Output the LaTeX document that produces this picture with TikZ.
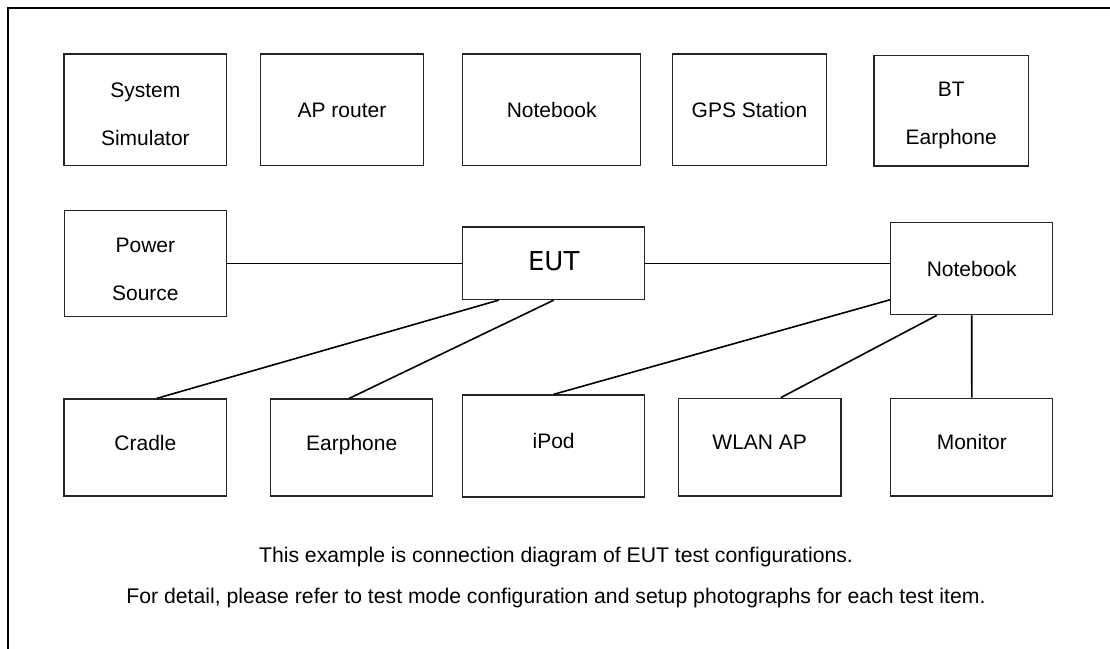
\documentclass[tikz,border=0pt]{standalone}
\usepackage{fontspec}
\setmainfont{Liberation Sans}
\newfontfamily\eutfont{DejaVu Sans}
\usetikzlibrary{calc}
\begin{document}
\begin{tikzpicture}[x=1pt,y=-1pt,
  dev/.style={draw=black!85, line width=1.3pt, inner sep=0pt, align=center,
    font=\fontsize{21}{47.7}\selectfont, text height=15pt, text depth=0pt},
  two/.style={text height=, text depth=},
  low/.style={text depth=10pt},
  link/.style={draw=black, line width=1.6pt},
  note/.style={inner sep=0pt, font=\fontsize{21.2}{25}\selectfont}]
\useasboundingbox (0,0) rectangle (1110,648);

% frame (only top and left edges are visible)
\draw[line width=2.7pt] (8,656) -- (8,8) -- (1118,8);

% top row
\node[dev, two, minimum width=162.7pt, minimum height=111.7pt] (sim) at (145.35,109.9)
  {\rule{0pt}{24pt}System\\Simulator};
\node[dev, minimum width=162.6pt, minimum height=111.7pt] (ap) at (342,109.9) {AP router};
\node[dev, minimum width=178pt, minimum height=111.7pt] (nbA) at (551.7,109.9) {Notebook};
\node[dev, minimum width=154.4pt, minimum height=111.7pt] (gps) at (749.5,109.9) {GPS Station};
\node[dev, two, minimum width=154.3pt, minimum height=110.3pt] (bt) at (951.2,110.9)
  {\rule{0pt}{24pt}BT\\Earphone};

% middle row
\node[dev, two, minimum width=162.4pt, minimum height=106pt] (power) at (145.35,263.3)
  {\rule{0pt}{26pt}Power\\Source};
\node[dev, minimum width=182pt, minimum height=72.4pt, font=\eutfont\fontsize{26}{30}\selectfont,
  text height=19pt, text depth=4.5pt] (eut) at (553.7,263.3) {EUT};
\node[dev, minimum width=162pt, minimum height=92pt] (nbB) at (971.7,268.7) {Notebook};

% bottom row
\node[dev, low, minimum width=162.7pt, minimum height=97pt] (cradle) at (145.35,447.5) {Cradle};
\node[dev, low, minimum width=162pt, minimum height=97pt] (earph) at (351.7,447.5) {Earphone};
\node[dev, low, minimum width=182pt, minimum height=102pt] (ipod) at (553.6,446) {iPod};
\node[dev, low, minimum width=162.4pt, minimum height=97.7pt] (wlan) at (759.7,447.15) {WLAN AP};
\node[dev, low, minimum width=162pt, minimum height=97.7pt] (mon) at (971.8,447.15) {Monitor};

% connections
\draw[link] (power.east) -- (eut.west);
\draw[link] (eut.east) -- (eut.east -| nbB.west);
\draw[link] ($(eut.south west)!0.2!(eut.south east)$) -- ($(cradle.north west)!0.57!(cradle.north east)$);
\draw[link] (eut.south) -- ($(earph.north west)!0.485!(earph.north east)$);
\draw[link] ($(nbB.north west)!0.833!(nbB.south west)$) -- (ipod.north);
\draw[link] ($(nbB.south west)!0.286!(nbB.south east)$) -- ($(wlan.north west)!0.629!(wlan.north east)$);
\draw[link] (nbB.south) -- (mon.north);

% notes
\node[note] (noteA) at (556,557) {This example is connection diagram of EUT test configurations.};
\node[note] (noteB) at (556,598) {For detail, please refer to test mode configuration and setup photographs for each test item.};
\end{tikzpicture}
\end{document}
